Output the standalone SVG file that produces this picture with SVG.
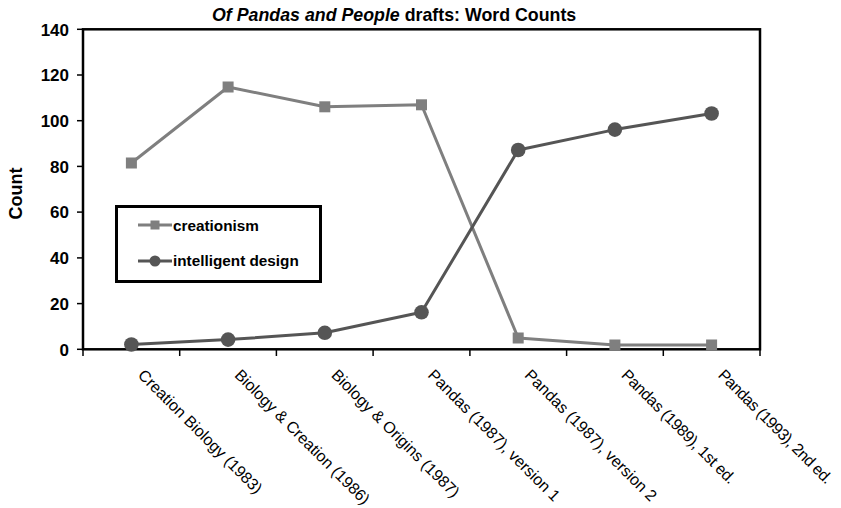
<svg xmlns="http://www.w3.org/2000/svg" width="841" height="508" viewBox="0 0 841 508">
<style>
  .b { font-family: "Liberation Sans", Arial, sans-serif; font-weight: bold; fill: #000; }
  .ytl { font-size: 17px; text-anchor: end; }
  .xl { font-family: "Liberation Sans", Arial, sans-serif; font-size: 16px; fill: #000; }
  .leg { font-size: 15.3px; }
  .cre { stroke: #7f7f7f; stroke-width: 3; fill: none; stroke-linejoin: round; }
  .id { stroke: #555555; stroke-width: 3; fill: none; stroke-linejoin: round; }
  .sq { fill: #7f7f7f; }
  .ci { fill: #555555; }
  .ax { stroke: #000; stroke-width: 2.5; fill: none; }
  .tk { stroke: #000; stroke-width: 1.5; }
</style>
<rect x="0" y="0" width="841" height="508" fill="#fff"/>
<g id="title">
  <text class="b" x="212" y="20.5" font-size="17.8"><tspan font-style="italic">Of Pandas and People</tspan> drafts: Word Counts</text>
</g>
<g id="plot-frame">
  <rect class="ax" x="83" y="29.3" width="677" height="320"/>
  <g class="tk">
    <line x1="77" y1="29.3" x2="83" y2="29.3"/>
    <line x1="77" y1="75" x2="83" y2="75"/>
    <line x1="77" y1="120.7" x2="83" y2="120.7"/>
    <line x1="77" y1="166.4" x2="83" y2="166.4"/>
    <line x1="77" y1="212.1" x2="83" y2="212.1"/>
    <line x1="77" y1="257.9" x2="83" y2="257.9"/>
    <line x1="77" y1="303.6" x2="83" y2="303.6"/>
    <line x1="77" y1="349.3" x2="83" y2="349.3"/>
    <line x1="83" y1="349.3" x2="83" y2="356"/>
    <line x1="179.7" y1="349.3" x2="179.7" y2="356"/>
    <line x1="276.4" y1="349.3" x2="276.4" y2="356"/>
    <line x1="373.1" y1="349.3" x2="373.1" y2="356"/>
    <line x1="469.9" y1="349.3" x2="469.9" y2="356"/>
    <line x1="566.6" y1="349.3" x2="566.6" y2="356"/>
    <line x1="663.3" y1="349.3" x2="663.3" y2="356"/>
    <line x1="760" y1="349.3" x2="760" y2="356"/>
  </g>
</g>
<g id="y-axis-labels" class="b ytl">
  <text x="69" y="35.5">140</text>
  <text x="69" y="81.2">120</text>
  <text x="69" y="126.9">100</text>
  <text x="69" y="172.6">80</text>
  <text x="69" y="218.3">60</text>
  <text x="69" y="264.1">40</text>
  <text x="69" y="309.8">20</text>
  <text x="69" y="355.5">0</text>
</g>
<g id="y-axis-title">
  <text class="b" font-size="18" text-anchor="middle" transform="translate(21.5,193.5) rotate(-90)">Count</text>
</g>
<g id="x-axis-labels" class="xl">
  <text transform="translate(137,376) rotate(45)">Creation Biology (1983)</text>
  <text transform="translate(233.7,376) rotate(45)">Biology &amp; Creation (1986)</text>
  <text transform="translate(330.4,376) rotate(45)">Biology &amp; Origins (1987)</text>
  <text transform="translate(427.1,376) rotate(45)">Pandas (1987), version 1</text>
  <text transform="translate(523.8,376) rotate(45)">Pandas (1987), version 2</text>
  <text transform="translate(620.5,376) rotate(45)" textLength="154">Pandas (1989), 1st ed.</text>
  <text transform="translate(717.2,376) rotate(45)" textLength="154">Pandas (1993), 2nd ed.</text>
</g>
<g id="connectors">
  <polyline id="creationism-line" class="cre" points="131.4,163 228.1,87 324.8,106.8 421.5,104.8 518.2,338 614.9,345 711.6,345"/>
  <polyline id="id-line" class="id" points="131.4,344.5 228.1,339.6 324.8,332.8 421.5,312.3 518.2,150 614.9,129.6 711.6,113.5"/>
</g>
<g id="creationism-markers" class="sq">
  <rect x="125.9" y="157.5" width="11" height="11"/>
  <rect x="222.6" y="81.5" width="11" height="11"/>
  <rect x="319.3" y="101.3" width="11" height="11"/>
  <rect x="416" y="99.3" width="11" height="11"/>
  <rect x="512.7" y="332.5" width="11" height="11"/>
  <rect x="609.4" y="339.5" width="11" height="11"/>
  <rect x="706.1" y="339.5" width="11" height="11"/>
</g>
<g id="id-markers" class="ci">
  <circle cx="131.4" cy="344.5" r="7.3"/>
  <circle cx="228.1" cy="339.6" r="7.3"/>
  <circle cx="324.8" cy="332.8" r="7.3"/>
  <circle cx="421.5" cy="312.3" r="7.3"/>
  <circle cx="518.2" cy="150" r="7.3"/>
  <circle cx="614.9" cy="129.6" r="7.3"/>
  <circle cx="711.6" cy="113.5" r="7.3"/>
</g>
<g id="legend">
  <rect x="116.5" y="206.5" width="204" height="75" fill="#fff" stroke="#000" stroke-width="3"/>
  <line class="cre" x1="138" y1="225" x2="172" y2="225"/>
  <rect class="sq" x="150.5" y="220.5" width="9" height="9"/>
  <text class="b leg" x="173" y="230.5">creationism</text>
  <line class="id" x1="138" y1="261" x2="172" y2="261"/>
  <circle class="ci" cx="155" cy="261" r="5.5"/>
  <text class="b leg" x="173" y="266">intelligent design</text>
</g>
</svg>
